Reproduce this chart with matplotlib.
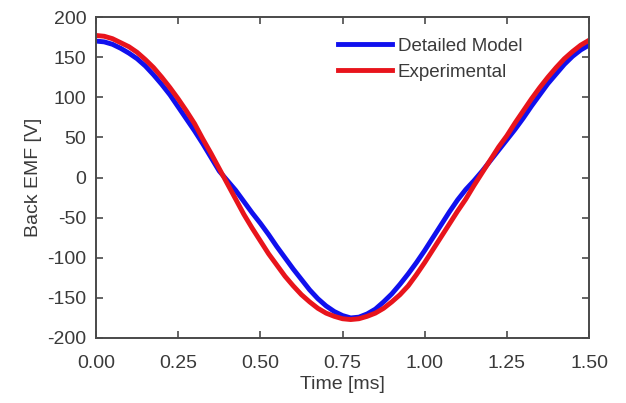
import numpy as np
import matplotlib
matplotlib.use("Agg")
import matplotlib.pyplot as plt

# time axis [ms], values at 0.025 ms steps
time_ms = np.round(np.arange(0, 61) * 0.025, 3)

detailed_model = [
   170, 169, 166, 161, 155, 148, 139, 128, 116, 103,
   88, 73, 58, 42, 25, 8, -4, -16, -30, -44,
   -57, -71, -86, -100, -114, -127, -140, -151, -160, -167,
   -172, -175, -174, -170, -164, -155, -145, -133, -120, -106,
   -91, -75, -59, -43, -28, -15, -4, 8, 21, 34,
   47, 60, 74, 89, 103, 117, 129, 141, 151, 159,
   165,
]

experimental = [
   177, 176, 173, 168, 163, 156, 147, 137, 125, 112,
   98, 83, 67, 48, 30, 11, -8, -27, -46, -63,
   -79, -95, -109, -123, -135, -146, -155, -163, -169, -173,
   -176, -177, -176, -173, -169, -163, -155, -146, -135, -121,
   -106, -90, -74, -58, -42, -27, -10, 6, 22, 38,
   52, 68, 83, 98, 112, 125, 137, 148, 157, 165,
   171,
]

x_ticks = [0.0, 0.25, 0.5, 0.75, 1.0, 1.25, 1.5]
y_ticks = [-200, -150, -100, -50, 0, 50, 100, 150, 200]

TXT = "#3a3a3a"
plt.rcParams["font.family"] = ["Liberation Sans", "DejaVu Sans"]
plt.rcParams["font.size"] = 14
plt.rcParams["axes.unicode_minus"] = False

fig = plt.figure(figsize=(6.26, 4.03), dpi=100)
ax = fig.add_axes([96 / 626, 1 - 338 / 403, 493 / 626, 321 / 403])

ax.plot(time_ms, detailed_model, color="#1010ee", linewidth=3.5,
        label="Detailed Model")
ax.plot(time_ms, experimental, color="#e8141c", linewidth=3.5,
        label="Experimental")

ax.set_xlim(0, 1.5)
ax.set_ylim(-200, 200)
ax.set_xticks(x_ticks)
ax.set_xticklabels(["%.2f" % t for t in x_ticks])
ax.set_yticks(y_ticks)

ax.set_xlabel("Time [ms]", color=TXT, labelpad=3)
ax.set_ylabel("Back EMF [V]", color=TXT, labelpad=4)

for side in ax.spines.values():
   side.set_color("#4a4a4a")
   side.set_linewidth(1.4)
ax.tick_params(axis="both", direction="in", top=True, right=True,
               length=5, width=1.2, color="#4a4a4a", labelcolor=TXT)
ax.tick_params(axis="x", pad=12)
ax.tick_params(axis="y", pad=7)

leg = ax.legend(loc="upper left", bbox_to_anchor=(0.49, 0.935),
                frameon=False, borderpad=0, borderaxespad=0,
                handlelength=2.9, handletextpad=0.3, labelspacing=0.45,
                fontsize=13.5)
for txt in leg.get_texts():
   txt.set_color(TXT)

fig.savefig("out.png", dpi=100)
